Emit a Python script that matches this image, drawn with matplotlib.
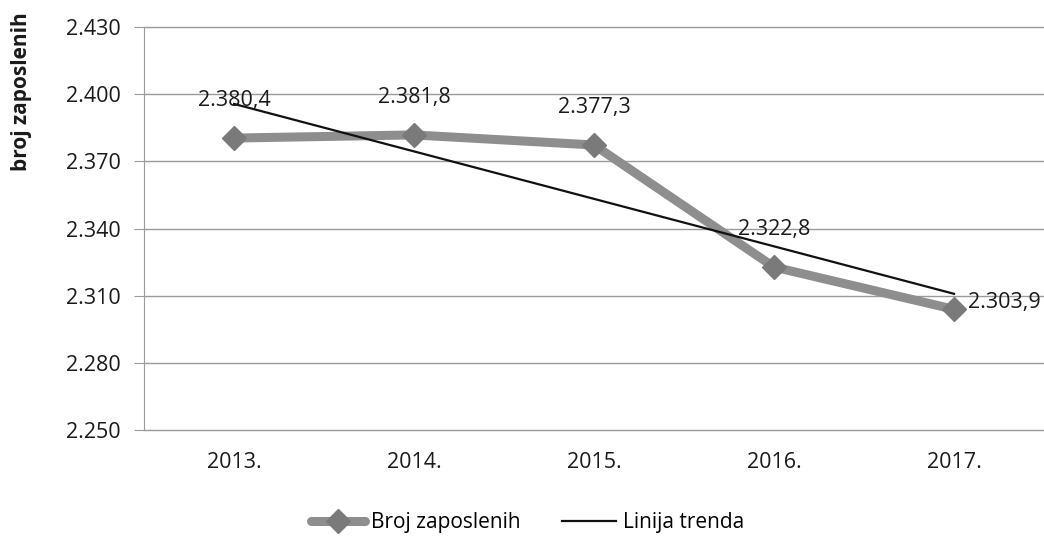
import numpy as np
import matplotlib.pyplot as plt
from matplotlib.ticker import FuncFormatter

plt.rcParams['font.family'] = ['Open Sans', 'DejaVu Sans']

# Broj zaposlenih (u tisućama)
godine = ['2013.', '2014.', '2015.', '2016.', '2017.']
zaposleni = [2380.4, 2381.8, 2377.3, 2322.8, 2303.9]
y_ticks = [2250, 2280, 2310, 2340, 2370, 2400, 2430]


def hr_broj(v, decimale=0):
    s = f'{v:,.{decimale}f}'
    return s.replace(',', 'X').replace('.', ',').replace('X', '.')


x = np.arange(len(godine))
# linearni trend
k, n = np.polyfit(x, zaposleni, 1)
trend = k * x + n

fig = plt.figure(figsize=(10.44, 5.38), dpi=100)
ax = fig.add_axes([0.138, 0.2007, 0.862, 0.7491])

grid_c = '#9a9a9a'
for t in y_ticks:
    ax.axhline(t, color=grid_c, lw=1.0, zorder=1, clip_on=False)

ax.plot(x, zaposleni, color='#8e8e8e', lw=6.5, marker='D', markersize=12,
        markerfacecolor='#7a7a7a', markeredgecolor='#7a7a7a',
        solid_capstyle='round', zorder=3, label='Broj zaposlenih')
ax.plot(x, trend, color='#111111', lw=1.6, zorder=4, label='Linija trenda')

# oznake vrijednosti
fs = 15.5
for i, v in enumerate(zaposleni):
    if i == len(zaposleni) - 1:
        ax.annotate(hr_broj(v, 1), (x[i], v), xytext=(10, 5), textcoords='offset points',
                    ha='left', va='center', fontsize=fs, color='#1a1a1a', zorder=5)
    else:
        ax.annotate(hr_broj(v, 1), (x[i], v), xytext=(0, 27), textcoords='offset points',
                    ha='center', va='center', fontsize=fs, color='#1a1a1a', zorder=5)

ax.set_xlim(-0.5, len(godine) - 0.5)
ax.set_ylim(2250, 2430)
ax.set_yticks(y_ticks)
ax.yaxis.set_major_formatter(FuncFormatter(lambda v, p: hr_broj(v)))
ax.set_xticks(x)
ax.set_xticklabels(godine)

for s in ['top', 'right', 'bottom']:
    ax.spines[s].set_visible(False)
ax.spines['left'].set_color(grid_c)
ax.tick_params(axis='y', length=7, color=grid_c, labelsize=fs, pad=10, labelcolor='#1a1a1a')
ax.tick_params(axis='x', length=0, labelsize=fs, pad=16, labelcolor='#1a1a1a')

fig.text(0.021, 0.83, 'broj zaposlenih', rotation=90, ha='center', va='center',
         fontsize=15, fontweight='bold', color='#1a1a1a')

fig.legend(loc='center', bbox_to_anchor=(0.505, 0.028), ncol=2, frameon=False,
           fontsize=15, handlelength=2.6, columnspacing=2.0, handletextpad=0.3)

fig.savefig('out.png', dpi=100)
